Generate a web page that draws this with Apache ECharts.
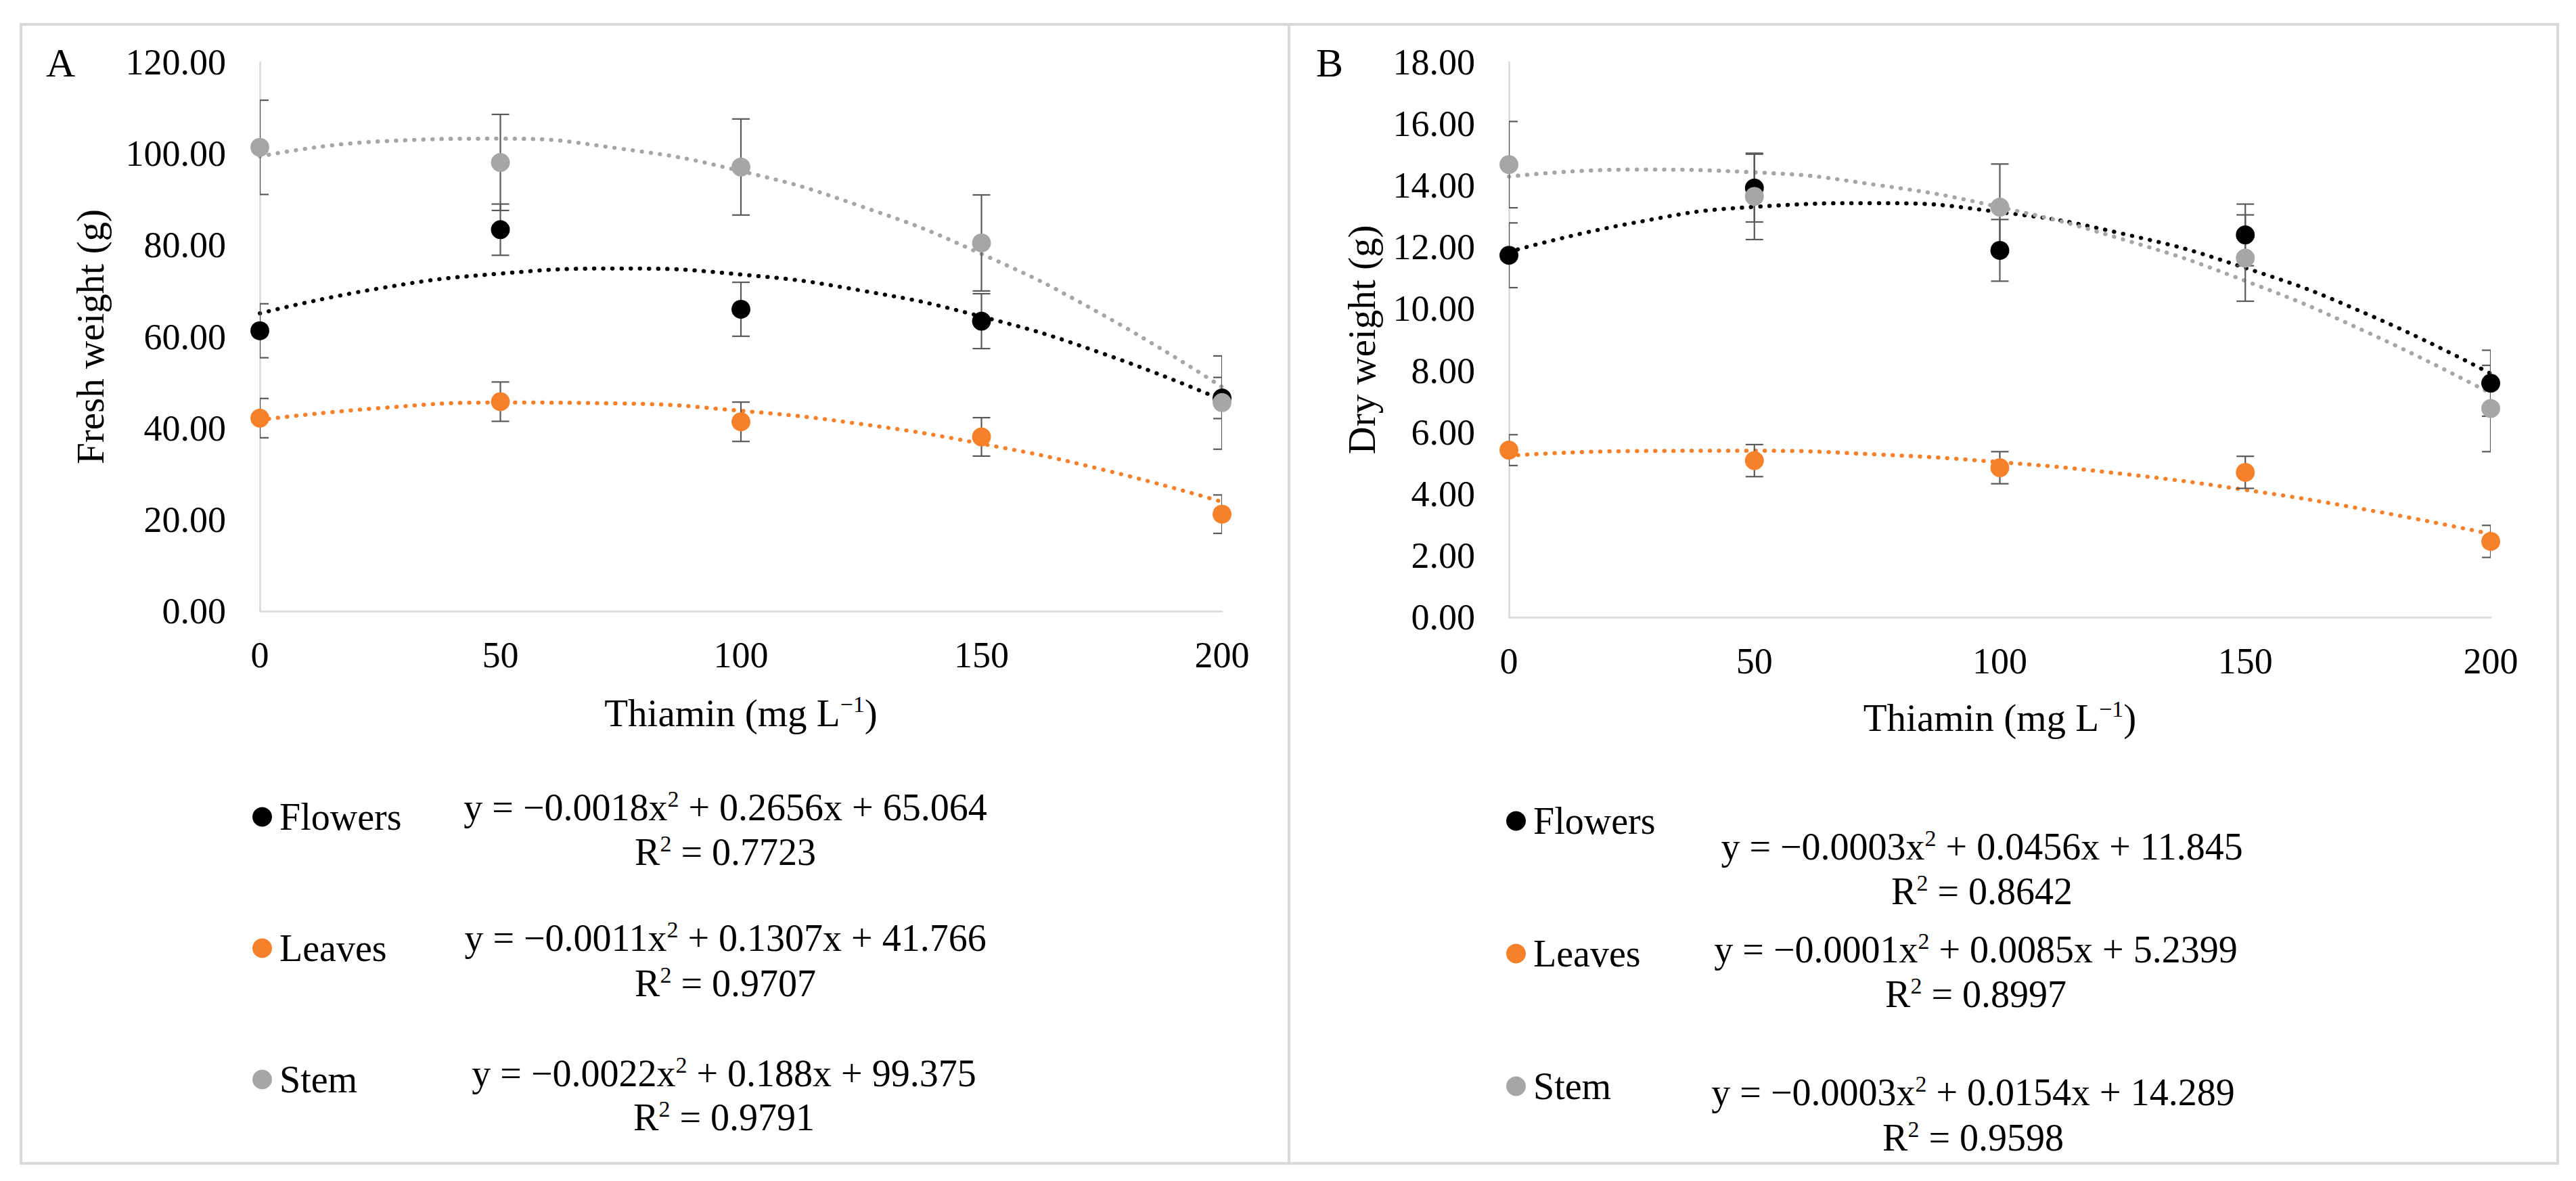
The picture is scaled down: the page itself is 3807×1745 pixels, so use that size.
<!DOCTYPE html>
<html>
<head>
<meta charset="utf-8">
<title>Thiamin - fresh and dry weight</title>
<script src="https://cdn.jsdelivr.net/npm/echarts@6/dist/echarts.min.js"></script>
<style>
  html, body { margin: 0; padding: 0; background: #fff; }
  #chart { width: 3807px; height: 1745px; }
</style>
</head>
<body>
<div id="chart"></div>
<script>
// doses of thiamin (x axis)
const doses = [0, 50, 100, 150, 200];
const trendX = [0, 25, 50, 75, 100, 125, 150, 175, 200];
const xTicks = [0, 50, 100, 150, 200];

// panel A - fresh weight (g)
const freshFlowers = [61.3, 83.4, 66.0, 63.4, 46.6];
const freshFlowersErr = [5.9, 5.6, 5.9, 6.0, 4.5];
const freshLeaves = [42.2, 45.8, 41.4, 38.1, 21.2];
const freshLeavesErr = [4.3, 4.3, 4.3, 4.2, 4.2];
const freshStem = [101.4, 98.1, 97.1, 80.5, 45.6];
const freshStemErr = [10.3, 10.5, 10.5, 10.5, 10.2];
// trend curves
const freshFlowersTrend = [65.1, 70.6, 73.8, 74.9, 73.6, 70.1, 64.4, 56.4, 46.2];
const freshLeavesTrend = [41.8, 44.4, 45.6, 45.4, 43.8, 40.9, 36.6, 31.0, 23.9];
const freshStemTrend = [99.4, 102.7, 103.3, 101.1, 96.2, 88.5, 78.1, 64.9, 49.0];

// panel B - dry weight (g)
const dryFlowers = [11.74, 13.92, 11.90, 12.40, 7.59];
const dryFlowersErr = [1.05, 1.1, 1.0, 1.0, 1.07];
const dryLeaves = [5.42, 5.08, 4.85, 4.70, 2.46];
const dryLeavesErr = [0.5, 0.52, 0.52, 0.52, 0.52];
const dryStem = [14.68, 13.65, 13.30, 11.65, 6.77];
const dryStemErr = [1.4, 1.4, 1.4, 1.4, 1.4];
const dryFlowersTrend = [11.85, 12.78, 13.31, 13.43, 13.14, 12.44, 11.33, 9.82, 7.90];
const dryLeavesTrend = [5.24, 5.39, 5.40, 5.28, 5.03, 4.65, 4.13, 3.48, 2.70];
const dryStemTrend = [14.29, 14.52, 14.43, 14.02, 13.30, 12.26, 10.91, 9.23, 7.26];

// trendline labels
const eqA = ['y = −0.0018x{sup|2} + 0.2656x + 65.064', 'y = −0.0011x{sup|2} + 0.1307x + 41.766', 'y = −0.0022x{sup|2} + 0.188x + 99.375'];
const r2A = ['R{sup|2} = 0.7723', 'R{sup|2} = 0.9707', 'R{sup|2} = 0.9791'];
const eqB = ['y = −0.0003x{sup|2} + 0.0456x + 11.845', 'y = −0.0001x{sup|2} + 0.0085x + 5.2399', 'y = −0.0003x{sup|2} + 0.0154x + 14.289'];
const r2B = ['R{sup|2} = 0.8642', 'R{sup|2} = 0.8997', 'R{sup|2} = 0.9598'];
const organs = ['Flowers', 'Leaves', 'Stem'];

const FONT = 'Liberation Serif, Times New Roman, serif';
const colors = { Flowers: '#000000', Leaves: '#F7802A', Stem: '#A6A6A6' };
const supRich = { sup: { fontSize: 34, lineHeight: 34, verticalAlign: 'top', fontFamily: FONT, color: '#000' } };

const chart = echarts.init(document.getElementById('chart'), null, { renderer: 'svg' });

function pairs(xs, ys) {
  return xs.map((x, i) => [x, ys[i]]);
}
function bars(vals, errs) {
  return doses.map((d, i) => [d, vals[i] - errs[i], vals[i] + errs[i]]);
}

function errorBarItem(params, api) {
  const x = api.value(0);
  const lo = api.coord([x, api.value(1)]);
  const hi = api.coord([x, api.value(2)]);
  const half = 13;
  const style = { stroke: '#595959', lineWidth: 2.2 };
  return {
    type: 'group',
    children: [
      { type: 'line', shape: { x1: lo[0], y1: lo[1], x2: hi[0], y2: hi[1] }, style: style },
      { type: 'line', shape: { x1: hi[0] - half, y1: hi[1], x2: hi[0] + half, y2: hi[1] }, style: style },
      { type: 'line', shape: { x1: lo[0] - half, y1: lo[1], x2: lo[0] + half, y2: lo[1] }, style: style }
    ]
  };
}

function panelSeries(idx, vals, errs, trends) {
  const out = [];
  organs.forEach((name, k) => {
    out.push({
      name: name + ' trend',
      type: 'line',
      xAxisIndex: idx, yAxisIndex: idx,
      data: pairs(trendX, trends[k]),
      smooth: true,
      showSymbol: false,
      silent: true,
      z: 2,
      lineStyle: { color: colors[name], width: 6, type: [0.5, 13], cap: 'round' }
    });
  });
  organs.forEach((name, k) => {
    out.push({
      type: 'custom',
      xAxisIndex: idx, yAxisIndex: idx,
      renderItem: errorBarItem,
      clip: true,
      z: 3,
      data: bars(vals[k], errs[k])
    });
  });
  organs.forEach((name, k) => {
    out.push({
      name: name,
      type: 'scatter',
      xAxisIndex: idx, yAxisIndex: idx,
      data: pairs(doses, vals[k]),
      symbol: 'circle',
      symbolSize: 28,
      z: 4,
      itemStyle: { color: colors[name], opacity: 1 }
    });
  });
  return out;
}

function xAxisCfg(idx, gap) {
  return {
    type: 'value', gridIndex: idx,
    min: 0, max: 200, interval: 50,
    name: 'Thiamin (mg L{sup|−1})',
    nameLocation: 'middle', nameGap: gap,
    nameTextStyle: { fontFamily: FONT, fontSize: 57, color: '#000', lineHeight: 60, rich: supRich },
    axisLine: { show: true, lineStyle: { color: '#D9D9D9', width: 2.5 } },
    axisTick: { show: false },
    splitLine: { show: false },
    axisLabel: { fontFamily: FONT, fontSize: 54, color: '#000', margin: 38, customValues: xTicks }
  };
}

function yAxisCfg(idx, max, step, name, gap) {
  return {
    type: 'value', gridIndex: idx,
    min: 0, max: max, interval: step,
    name: name,
    nameLocation: 'middle', nameGap: gap,
    nameTextStyle: { fontFamily: FONT, fontSize: 57, color: '#000' },
    axisLine: { show: true, lineStyle: { color: '#D9D9D9', width: 2.5 } },
    axisTick: { show: false },
    splitLine: { show: false },
    axisLabel: { fontFamily: FONT, fontSize: 54, color: '#000', margin: 50, formatter: v => v.toFixed(2) }
  };
}

function textEl(txt, x, y, size) {
  return {
    type: 'text', x: x, y: y, silent: true,
    style: {
      text: txt, fontFamily: FONT, fontSize: size || 56, fill: '#000',
      align: 'center', verticalAlign: 'middle', lineHeight: 60, rich: supRich
    }
  };
}

const eqPos = {
  A: { x: [1072, 1072, 1070], eqY: [1193, 1386, 1586], r2Y: [1259, 1453, 1651] },
  B: { x: [2929, 2920, 2916], eqY: [1251, 1403, 1614], r2Y: [1317, 1469, 1681] }
};

const graphics = [
  { type: 'rect', shape: { x: 31, y: 36, width: 1874, height: 1683 }, style: { fill: 'none', stroke: '#D9D9D9', lineWidth: 4 }, silent: true },
  { type: 'rect', shape: { x: 1905, y: 36, width: 1875, height: 1683 }, style: { fill: 'none', stroke: '#D9D9D9', lineWidth: 4 }, silent: true },
  { type: 'text', x: 68, y: 93, silent: true, style: { text: 'A', fontFamily: FONT, fontSize: 60, fill: '#000', align: 'left', verticalAlign: 'middle' } },
  { type: 'text', x: 1945, y: 93, silent: true, style: { text: 'B', fontFamily: FONT, fontSize: 60, fill: '#000', align: 'left', verticalAlign: 'middle' } }
];
organs.forEach((o, k) => {
  graphics.push(textEl(eqA[k], eqPos.A.x[k], eqPos.A.eqY[k]));
  graphics.push(textEl(r2A[k], eqPos.A.x[k], eqPos.A.r2Y[k]));
  graphics.push(textEl(eqB[k], eqPos.B.x[k], eqPos.B.eqY[k]));
  graphics.push(textEl(r2B[k], eqPos.B.x[k], eqPos.B.r2Y[k]));
});

function legendCfg(left, top, gap) {
  return {
    data: organs,
    orient: 'vertical',
    left: left, top: top,
    icon: 'circle',
    itemWidth: 29, itemHeight: 29,
    itemGap: gap,
    selectedMode: false,
    textStyle: { fontFamily: FONT, fontSize: 56, color: '#000', lineHeight: 56, padding: [0, 0, 0, 6] }
  };
}

const option = {
  backgroundColor: '#fff',
  animation: false,
  grid: [
    { left: 384, top: 92, width: 1422, height: 811 },
    { left: 2230, top: 92, width: 1451, height: 820 }
  ],
  xAxis: [xAxisCfg(0, 120), xAxisCfg(1, 118)],
  yAxis: [
    yAxisCfg(0, 120, 20, 'Fresh weight (g)', 222),
    yAxisCfg(1, 18, 2, 'Dry weight (g)', 189)
  ],
  legend: [legendCfg(368, 1174, 138), legendCfg(2221, 1180, 140)],
  graphic: graphics,
  series: [].concat(
    panelSeries(0, [freshFlowers, freshLeaves, freshStem], [freshFlowersErr, freshLeavesErr, freshStemErr],
      [freshFlowersTrend, freshLeavesTrend, freshStemTrend]),
    panelSeries(1, [dryFlowers, dryLeaves, dryStem], [dryFlowersErr, dryLeavesErr, dryStemErr],
      [dryFlowersTrend, dryLeavesTrend, dryStemTrend])
  )
};

chart.setOption(option);
</script>
</body>
</html>
